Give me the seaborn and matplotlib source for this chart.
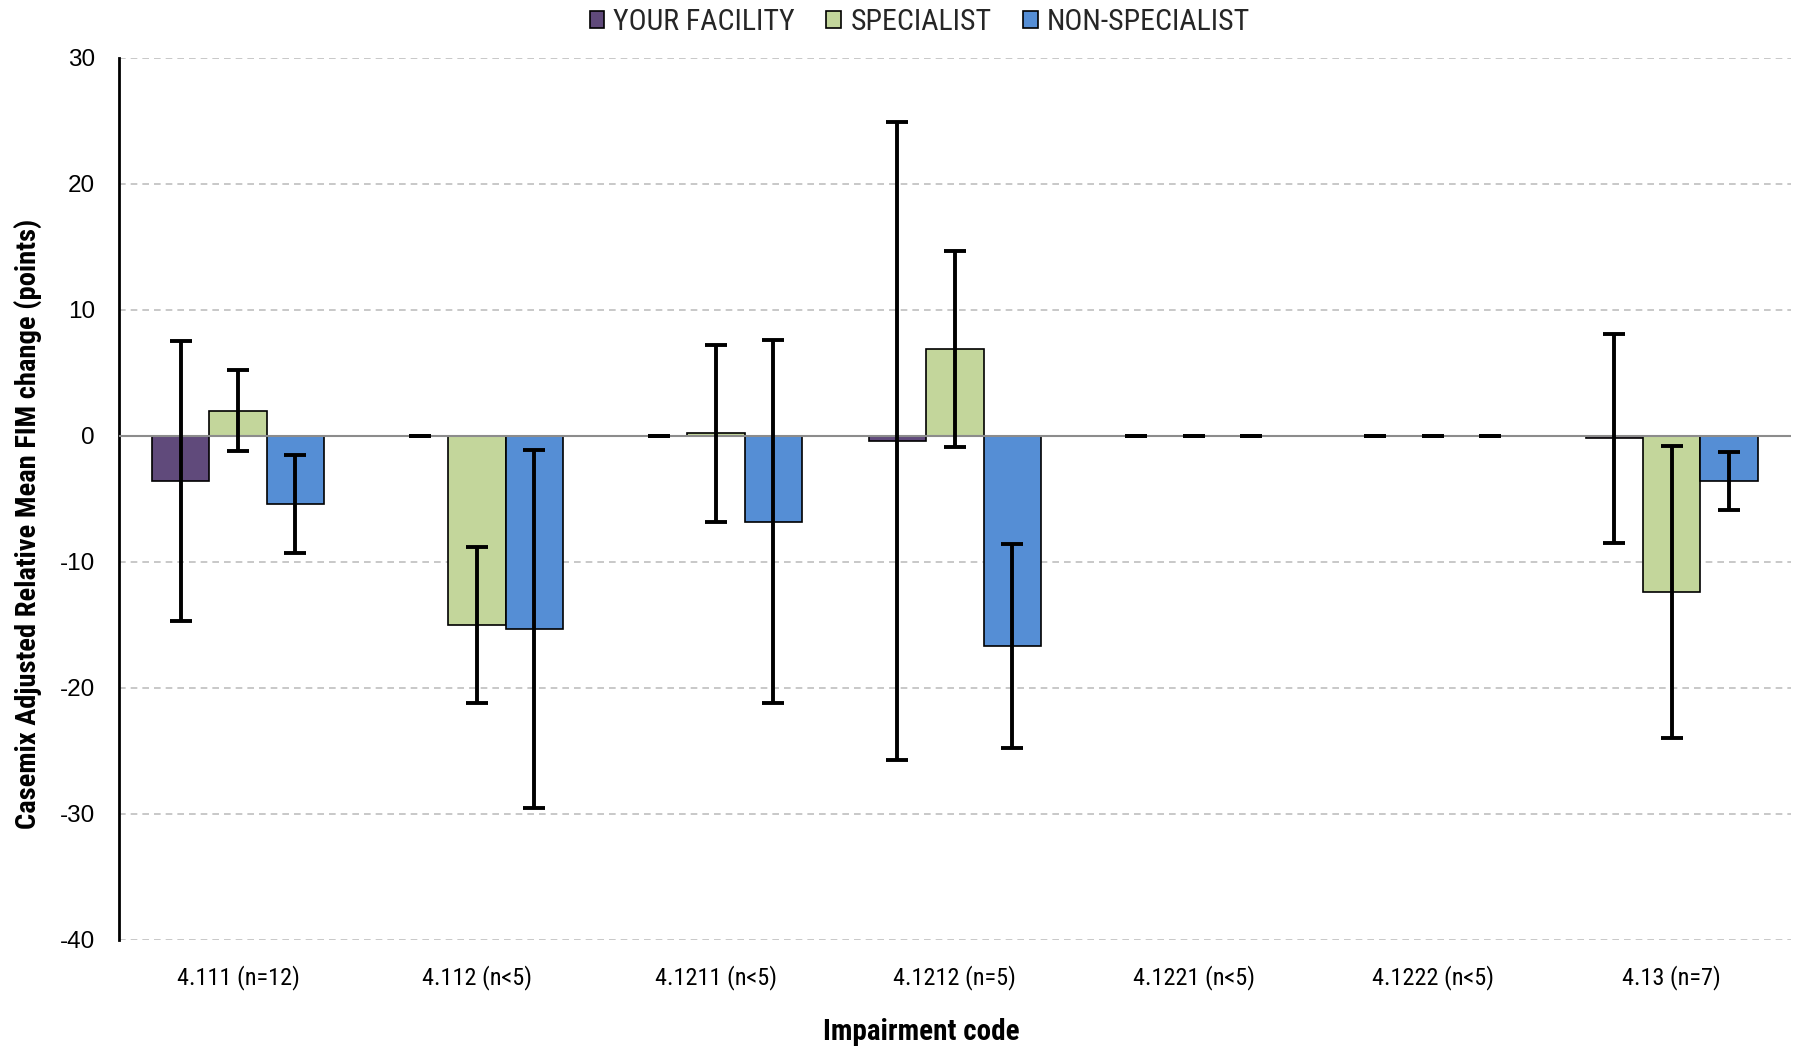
import pandas as pd
import matplotlib.pyplot as plt
import seaborn as sns
from matplotlib import font_manager

# Impairment codes and series values
categories = ['4.111 (n=12)', '4.112 (n<5)', '4.1211 (n<5)', '4.1212 (n=5)',
              '4.1221 (n<5)', '4.1222 (n<5)', '4.13 (n=7)']
series = ['YOUR FACILITY', 'SPECIALIST', 'NON-SPECIALIST']

your_facility = [-3.6, 0, 0, -0.4, 0, 0, -0.2]
your_facility_err = [11.1, 0, 0, 25.3, 0, 0, 8.3]
specialist = [2.0, -15.0, 0.2, 6.9, 0, 0, -12.4]
specialist_err = [3.2, 6.2, 7.0, 7.8, 0, 0, 11.6]
non_specialist = [-5.4, -15.3, -6.8, -16.7, 0, 0, -3.6]
non_specialist_err = [3.9, 14.2, 14.4, 8.1, 0, 0, 2.3]

colors = ['#604A7B', '#C3D69B', '#558ED5']

# long table for seaborn
errors = [your_facility_err, specialist_err, non_specialist_err]
df = pd.DataFrame({
    'code': categories * 3,
    'group': [s for s in series for _ in categories],
    'value': your_facility + specialist + non_specialist,
})

sns.set_style('white')
plt.rcParams['axes.unicode_minus'] = False

# look for a condensed face, otherwise fall back to Liberation Sans
names = {f.name for f in font_manager.fontManager.ttflist}
narrow = [n for n in ['Liberation Sans Narrow', 'Roboto Condensed',
                      'Open Sans Condensed', 'DejaVu Sans Condensed']
          if n in names] + ['Liberation Sans', 'DejaVu Sans']
regular = ['Liberation Sans', 'DejaVu Sans']

fig = plt.figure(figsize=(18.06, 10.52), dpi=100)
ax = fig.add_axes([0.0657, 0.1065, 0.926, 0.8385])

sns.barplot(data=df, x='code', y='value', hue='group', order=categories,
            hue_order=series, palette=colors, saturation=1, width=0.72,
            gap=0, edgecolor='black', linewidth=1.2, errorbar=None, ax=ax,
            zorder=3)

# error bars on top of each bar
for cont, err in zip(ax.containers, errors):
    xs = [p.get_x() + p.get_width() / 2 for p in cont.patches]
    ys = [p.get_height() for p in cont.patches]
    for p in cont.patches:
        if p.get_height() == 0:
            p.set_linewidth(0)
    ax.errorbar(xs, ys, yerr=err, fmt='none', ecolor='black',
                elinewidth=2.8, capsize=8, capthick=2.8, zorder=4)

ax.set_xlim(-0.5, len(categories) - 0.5)
ax.set_ylim(-40, 30)
ax.set_yticks(range(-40, 31, 10))

# dashed grid, solid zero line
for y in range(-40, 31, 10):
    if y == 0:
        ax.axhline(0, color='#8c8c8c', linewidth=1.5, zorder=3.5)
    else:
        ax.axhline(y, color='#bfbfbf', linewidth=1.2, linestyle=(0, (4, 3)),
                   zorder=1)

for side in ['top', 'right', 'bottom']:
    ax.spines[side].set_visible(False)
ax.spines['left'].set_color('black')
ax.spines['left'].set_linewidth(2)

ax.tick_params(axis='y', length=0, pad=17)
ax.tick_params(axis='x', length=0, pad=18)
for lab in ax.get_yticklabels():
    lab.set_fontfamily(regular)
    lab.set_fontsize(17.5)
    lab.set_color('black')
for lab in ax.get_xticklabels():
    lab.set_fontfamily(narrow)
    lab.set_fontsize(17.5)
    lab.set_color('black')

ax.set_xlabel('Impairment code', fontsize=21, fontweight='bold',
              family=narrow, color='black')
ax.xaxis.set_label_coords(0.48, -0.088)
ax.set_ylabel('Casemix Adjusted Relative Mean FIM change (points)',
              fontsize=20.5, fontweight='bold', family=narrow, color='black')
ax.yaxis.set_label_coords(-0.046, 0.472)

leg = ax.legend(loc='center', bbox_to_anchor=(0.479, 1.041), ncol=3,
                frameon=False, prop={'family': narrow, 'size': 21.5},
                handlelength=0.5, handleheight=0.5, handletextpad=0.3,
                columnspacing=1.05, borderaxespad=0)
for h in leg.legend_handles:
    h.set_edgecolor('black')
    h.set_linewidth(1.2)

plt.savefig('out.png', dpi=100)
plt.close()
